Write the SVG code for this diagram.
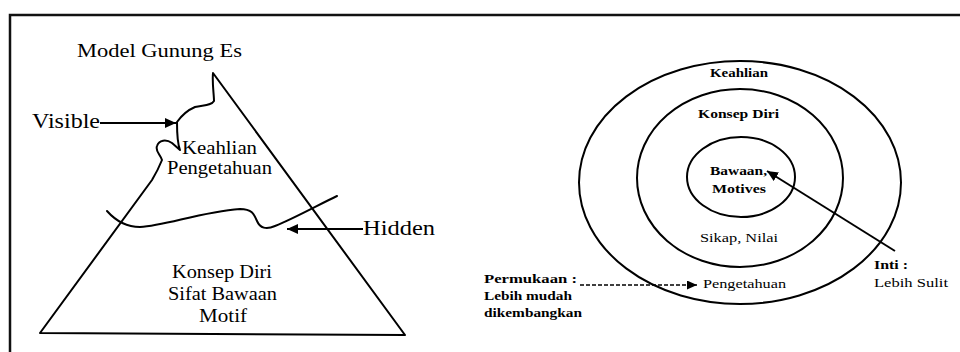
<svg xmlns="http://www.w3.org/2000/svg" width="960" height="352" viewBox="0 0 960 352">
<defs>
<marker id="ah" markerUnits="userSpaceOnUse" markerWidth="12" markerHeight="10" refX="11" refY="5" orient="auto">
<path d="M0,0 L11,5 L0,10 Z" fill="#000"/>
</marker>
<marker id="ahs" markerUnits="userSpaceOnUse" markerWidth="11" markerHeight="9" refX="10" refY="4.5" orient="auto">
<path d="M0,0 L10,4.5 L0,9 Z" fill="#000"/>
</marker>
</defs>
<style>
.ln{fill:none;stroke:#000;stroke-width:2;stroke-linejoin:round;stroke-linecap:round}
text{font-family:'Liberation Serif','DejaVu Serif','Times New Roman',serif;fill:#000}
.big{font-size:21px}
.mid{font-size:19px}
.sm{font-size:13px}
.b{font-weight:bold}
</style>
<rect width="960" height="352" fill="#fff"/>
<g id="frame">
<path d="M10,352 L10,15 L960,15" fill="none" stroke="#111" stroke-width="2.5"/>
</g>
<g id="iceberg" font-family="Liberation Serif, serif">
<path class="ln" d="M213,73 L405,335 L40,333 L152,180 Q158,170 162,160 C160,154 155,151 157,146 C159,140 166,139 172,143 L180,150 C178,145 177,138 177,122 C182,115 188,110 195,107 C203,105 211,106 214,101 C214,95 212,82 213,73 Z"/>
<path class="ln" d="M107,211 C115,220 125,227 140,227 C165,226 200,212 240,209 C252,209 254,214 257,221 C260,228 266,230 275,226 C295,218 318,205 337,196"/>
<text class="mid" x="77" y="57" textLength="165" lengthAdjust="spacingAndGlyphs">Model Gunung Es</text>
<text class="mid" x="182" y="154" textLength="75" lengthAdjust="spacingAndGlyphs">Keahlian</text>
<text class="mid" x="167" y="174" textLength="105" lengthAdjust="spacingAndGlyphs">Pengetahuan</text>
<text class="mid" x="172" y="278" textLength="100" lengthAdjust="spacingAndGlyphs">Konsep Diri</text>
<text class="mid" x="168" y="300" textLength="109" lengthAdjust="spacingAndGlyphs">Sifat Bawaan</text>
<text class="mid" x="199" y="322" textLength="48" lengthAdjust="spacingAndGlyphs">Motif</text>
</g>
<g id="visible-label">
<text class="big" x="32" y="128" textLength="68" lengthAdjust="spacingAndGlyphs">Visible</text>
</g>
<g id="hidden-label">
<text class="big" x="363" y="235" textLength="72" lengthAdjust="spacingAndGlyphs">Hidden</text>
</g>
<g id="outer-circle">
<ellipse class="ln" cx="740" cy="182.5" rx="161" ry="121.5"/>
<text class="sm b" x="710" y="77" textLength="58" lengthAdjust="spacingAndGlyphs">Keahlian</text>
<text class="sm" x="703" y="288" textLength="83" lengthAdjust="spacingAndGlyphs">Pengetahuan</text>
</g>
<g id="middle-circle">
<ellipse class="ln" cx="740" cy="178" rx="103" ry="89"/>
<text class="sm b" x="698" y="118" textLength="81" lengthAdjust="spacingAndGlyphs">Konsep Diri</text>
<text class="sm" x="700" y="242" textLength="78" lengthAdjust="spacingAndGlyphs">Sikap, Nilai</text>
</g>
<g id="inner-circle">
<ellipse class="ln" cx="741" cy="177" rx="54" ry="40"/>
<text class="sm b" x="710" y="175" textLength="57" lengthAdjust="spacingAndGlyphs">Bawaan,</text>
<text class="sm b" x="712" y="193" textLength="54" lengthAdjust="spacingAndGlyphs">Motives</text>
</g>
<g id="permukaan-label">
<text class="sm b" x="484" y="283" textLength="93" lengthAdjust="spacingAndGlyphs">Permukaan :</text>
<text class="sm b" x="484" y="300" textLength="88" lengthAdjust="spacingAndGlyphs">Lebih mudah</text>
<text class="sm b" x="484" y="317" textLength="98" lengthAdjust="spacingAndGlyphs">dikembangkan</text>
</g>
<g id="inti-label">
<text class="sm b" x="874" y="269" textLength="34" lengthAdjust="spacingAndGlyphs">Inti :</text>
<text class="sm" x="874" y="287" textLength="74" lengthAdjust="spacingAndGlyphs">Lebih Sulit</text>
</g>
<g id="connectors">
<line x1="100" y1="123" x2="176" y2="123" stroke="#000" stroke-width="2" marker-end="url(#ah)"/>
<line x1="363" y1="229" x2="287" y2="229" stroke="#000" stroke-width="2" marker-end="url(#ah)"/>
<line x1="580" y1="285" x2="697" y2="285" stroke="#000" stroke-width="1.5" stroke-dasharray="4 2" marker-end="url(#ahs)"/>
<line x1="895" y1="251" x2="767" y2="171" stroke="#000" stroke-width="2" marker-end="url(#ah)"/>
</g>
</svg>
